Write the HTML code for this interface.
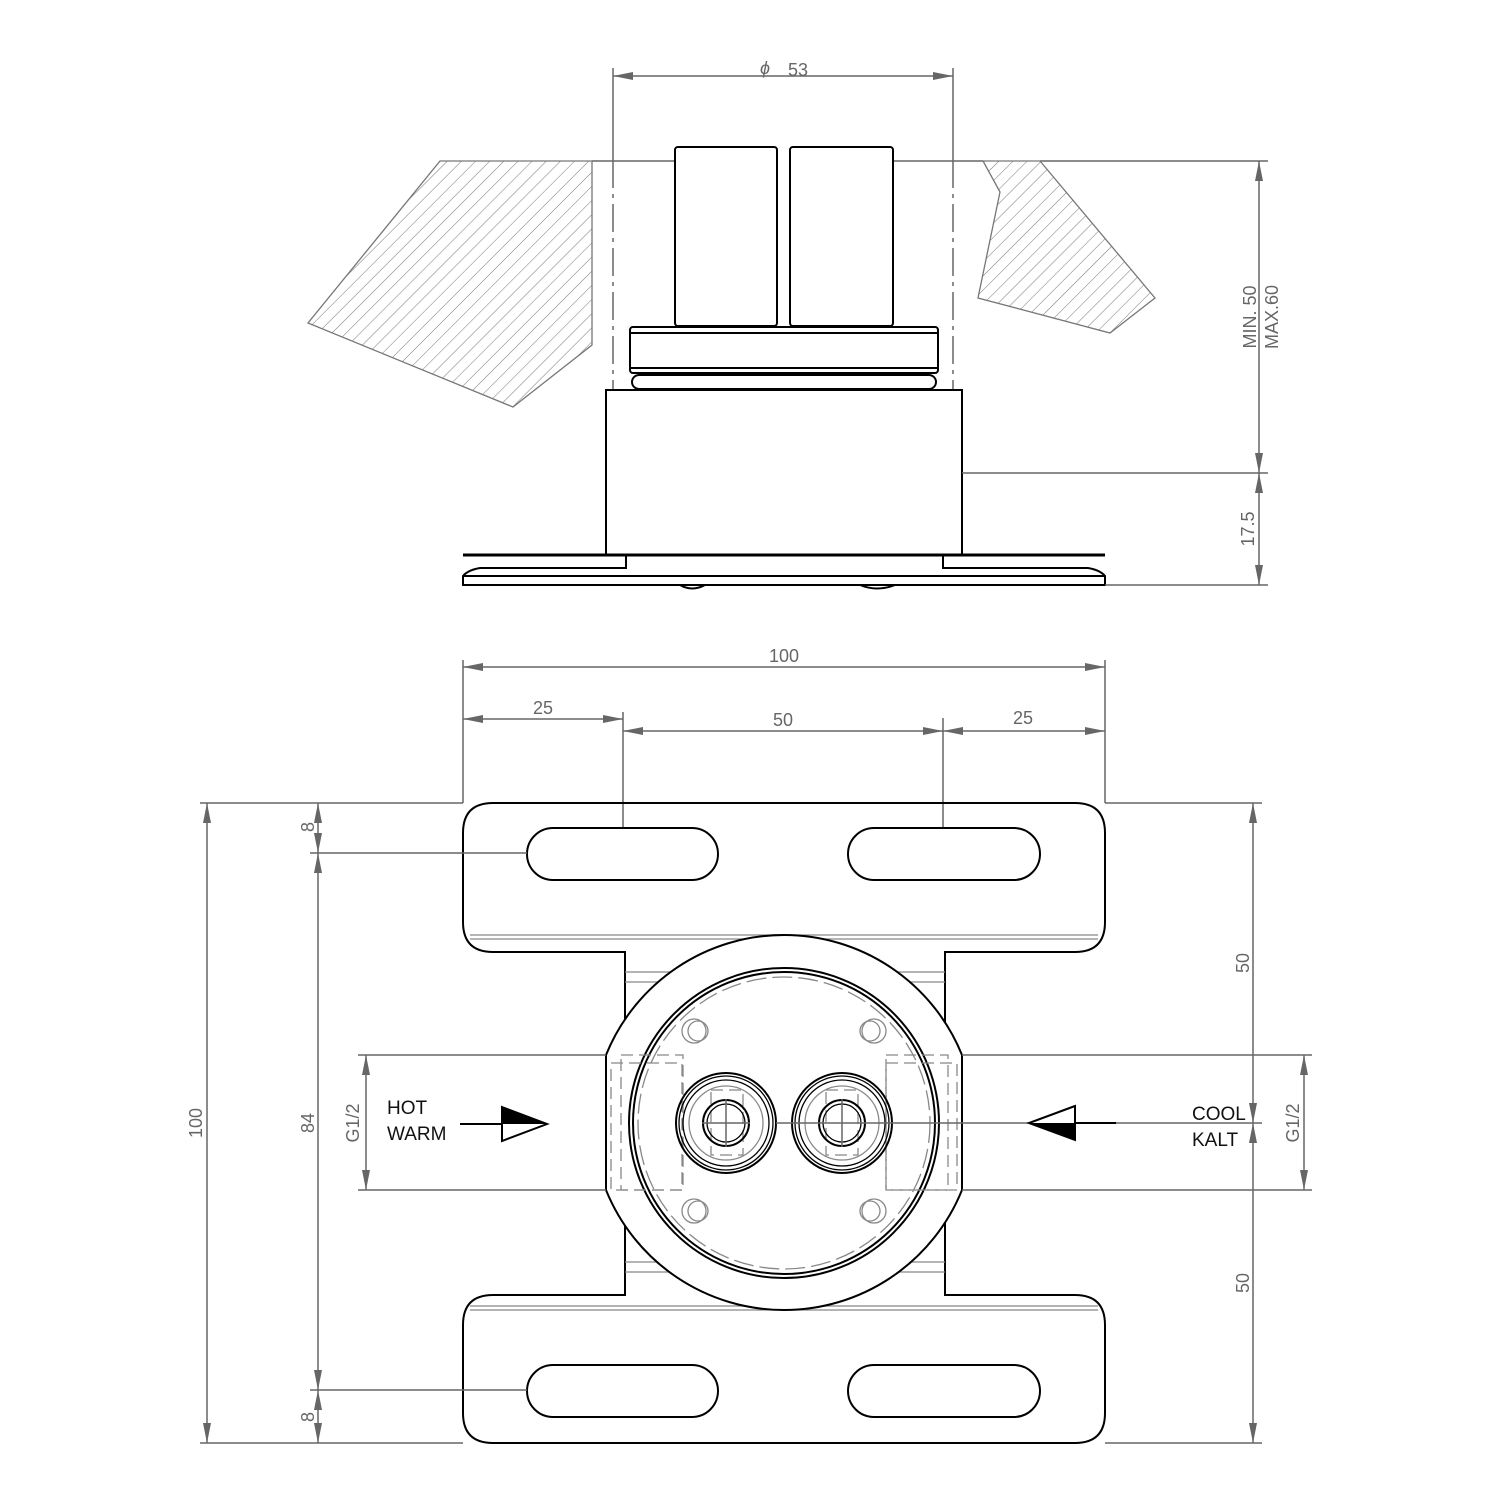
<!DOCTYPE html>
<html><head><meta charset="utf-8"><style>
html,body{margin:0;padding:0;background:#fff;}
svg{display:block;}
text{font-family:"Liberation Sans",sans-serif;}
.d{stroke:#666;stroke-width:1.5;fill:none;}
.k{stroke:#000;stroke-width:2;fill:none;}
.g{stroke:#888;stroke-width:1.3;fill:none;}
.dt{fill:#666;font-size:18px;}
.bt{fill:#111;font-size:19px;}
</style></head><body>
<svg width="1500" height="1500" viewBox="0 0 1500 1500" xmlns="http://www.w3.org/2000/svg">
<defs>
<marker id="a" viewBox="0 0 20 8" refX="20" refY="4" markerWidth="20" markerHeight="8" markerUnits="userSpaceOnUse" orient="auto-start-reverse"><path d="M0,0 L20,4 L0,8 z" fill="#666"/></marker>
<pattern id="h" patternUnits="userSpaceOnUse" width="10" height="10" patternTransform="rotate(45)"><line x1="0" y1="0" x2="0" y2="10" stroke="#777" stroke-width="1"/></pattern>
</defs>

<!-- ===== TOP VIEW ===== -->
<!-- phi 53 -->
<line class="d" x1="613" y1="68" x2="613" y2="160"/>
<line class="d" x1="953" y1="68" x2="953" y2="160"/>
<line class="d" x1="613" y1="160" x2="613" y2="390" stroke-dasharray="28,6,4,6"/>
<line class="d" x1="953" y1="160" x2="953" y2="390" stroke-dasharray="28,6,4,6"/>
<line class="d" x1="613" y1="76" x2="953" y2="76" marker-start="url(#a)" marker-end="url(#a)"/>
<text class="dt" x="760" y="74" font-style="italic" font-size="22">ϕ</text>
<text class="dt" x="788" y="76">53</text>
<line class="d" x1="592" y1="161" x2="675" y2="161"/>
<line class="d" x1="893" y1="161" x2="983" y2="161"/>
<line class="d" x1="1040" y1="161" x2="1268" y2="161"/>

<!-- hatched -->
<polygon points="440,161 592,161 592,345 513,407 308,323" fill="url(#h)" stroke="#777" stroke-width="1.3"/>
<polygon points="983,161 1040,161 1155,298 1110,333 978,298 1000,192" fill="url(#h)" stroke="#777" stroke-width="1.3"/>

<!-- handles -->
<rect class="k" x="675" y="147" width="102" height="179" rx="3"/>
<rect class="k" x="790" y="147" width="103" height="179" rx="3"/>
<!-- nut -->
<rect class="k" x="630" y="327" width="308" height="46" rx="3"/>
<line class="k" x1="630" y1="333" x2="938" y2="333" stroke-width="1.2"/>
<line class="k" x1="630" y1="368" x2="938" y2="368" stroke-width="1.2"/>
<rect class="k" x="632" y="375" width="304" height="14" rx="7"/>
<!-- body -->
<rect class="k" x="606" y="390" width="356" height="165"/>
<line class="d" x1="962" y1="473" x2="1268" y2="473"/>
<!-- plate -->
<line x1="463" y1="555" x2="1105" y2="555" stroke="#000" stroke-width="3"/>
<path class="k" d="M626,556 V568 H480 Q468,570 463,576 V585 H1105 V576 Q1100,570 1088,568 H943 V556"/>
<line class="k" x1="463" y1="576" x2="1105" y2="576" stroke-width="1.5"/>
<path class="k" d="M680,585 Q692,592 705,585 M860,585 Q877,592 895,585" stroke-width="1.5"/>
<line class="d" x1="1105" y1="585" x2="1268" y2="585"/>
<line class="d" x1="1259" y1="161" x2="1259" y2="473" marker-start="url(#a)" marker-end="url(#a)"/>
<line class="d" x1="1259" y1="473" x2="1259" y2="585" marker-start="url(#a)" marker-end="url(#a)"/>
<text class="dt" transform="translate(1256,317) rotate(-90)" text-anchor="middle">MIN. 50</text>
<text class="dt" transform="translate(1278,317) rotate(-90)" text-anchor="middle">MAX.60</text>
<text class="dt" transform="translate(1254,529) rotate(-90)" text-anchor="middle">17.5</text>

<!-- ===== BOTTOM VIEW ===== -->
<line class="d" x1="463" y1="660" x2="463" y2="803"/>
<line class="d" x1="1105" y1="660" x2="1105" y2="803"/>
<line class="d" x1="623" y1="712" x2="623" y2="828"/>
<line class="d" x1="943" y1="718" x2="943" y2="828"/>
<line class="d" x1="463" y1="667" x2="1105" y2="667" marker-start="url(#a)" marker-end="url(#a)"/>
<text class="dt" x="784" y="662" text-anchor="middle">100</text>
<line class="d" x1="463" y1="719" x2="623" y2="719" marker-start="url(#a)" marker-end="url(#a)"/>
<text class="dt" x="543" y="714" text-anchor="middle">25</text>
<line class="d" x1="623" y1="731" x2="943" y2="731" marker-start="url(#a)" marker-end="url(#a)"/>
<text class="dt" x="783" y="726" text-anchor="middle">50</text>
<line class="d" x1="943" y1="731" x2="1105" y2="731" marker-start="url(#a)" marker-end="url(#a)"/>
<text class="dt" x="1023" y="724" text-anchor="middle">25</text>

<!-- outline -->
<path class="k" d="M493,803 H1075 Q1105,803 1105,833 V922 Q1105,952 1075,952 H945 V1295 H1075 Q1105,1295 1105,1325 V1413 Q1105,1443 1075,1443 H493 Q463,1443 463,1413 V1325 Q463,1295 493,1295 H625 V952 H493 Q463,952 463,922 V833 Q463,803 493,803 Z"/>
<line class="g" x1="470" y1="935" x2="1098" y2="935"/>
<line class="g" x1="470" y1="939" x2="1098" y2="939"/>
<line class="g" x1="625" y1="972" x2="945" y2="972"/>
<line class="g" x1="625" y1="982" x2="945" y2="982"/>
<line class="g" x1="625" y1="1262" x2="945" y2="1262"/>
<line class="g" x1="625" y1="1272" x2="945" y2="1272"/>
<line class="g" x1="470" y1="1306" x2="1098" y2="1306"/>
<line class="g" x1="470" y1="1310" x2="1098" y2="1310"/>
<!-- slots -->
<rect class="k" x="527" y="828" width="191" height="52" rx="26"/>
<rect class="k" x="848" y="828" width="192" height="52" rx="26"/>
<rect class="k" x="527" y="1365" width="191" height="52" rx="26"/>
<rect class="k" x="848" y="1365" width="192" height="52" rx="26"/>

<!-- big circle -->
<path d="M606,1055 A192,192 0 0 1 962,1055 V1190 A192,192 0 0 1 606,1190 Z" fill="#fff" stroke="#000" stroke-width="2"/>
<circle class="k" cx="784" cy="1123" r="155"/>
<circle class="k" cx="784" cy="1123" r="151" stroke-width="1.3"/>
<circle class="g" cx="784" cy="1123" r="146" stroke-dasharray="20,6"/>
<!-- screw holes -->
<g class="g">
<circle cx="694" cy="1031" r="12"/><circle cx="698" cy="1031" r="10"/>
<circle cx="874" cy="1031" r="12"/><circle cx="870" cy="1031" r="10"/>
<circle cx="694" cy="1211" r="12"/><circle cx="698" cy="1211" r="10"/>
<circle cx="874" cy="1211" r="12"/><circle cx="870" cy="1211" r="10"/>
</g>
<!-- dashed ports -->
<g class="g" stroke-dasharray="12,6">
<rect x="611" y="1063" width="71" height="127"/>
<rect x="621" y="1055" width="62" height="135"/>
<rect x="886" y="1063" width="71" height="127"/>
<rect x="886" y="1055" width="62" height="135"/>
<rect x="711" y="1090" width="32" height="65"/>
<rect x="826" y="1090" width="32" height="65"/>
</g>
<!-- fittings -->
<g class="k">
<circle cx="726" cy="1123" r="50"/><circle cx="726" cy="1123" r="47" stroke-width="1.3"/><circle cx="726" cy="1123" r="43" stroke-width="1.3"/>
<circle cx="726" cy="1123" r="23"/><circle cx="726" cy="1123" r="19" stroke-width="1.3"/>
<circle cx="842" cy="1123" r="50"/><circle cx="842" cy="1123" r="47" stroke-width="1.3"/><circle cx="842" cy="1123" r="43" stroke-width="1.3"/>
<circle cx="842" cy="1123" r="23"/><circle cx="842" cy="1123" r="19" stroke-width="1.3"/>
</g>
<circle class="g" cx="726" cy="1123" r="37"/><circle class="g" cx="842" cy="1123" r="37"/>
<line class="d" x1="702" y1="1123" x2="750" y2="1123"/>
<line class="d" x1="726" y1="1099" x2="726" y2="1147"/>
<line class="d" x1="842" y1="1099" x2="842" y2="1147"/>
<line class="d" x1="776" y1="1123" x2="1116" y2="1123"/>

<!-- left dims -->
<line class="d" x1="200" y1="803" x2="463" y2="803"/>
<line class="d" x1="200" y1="1443" x2="463" y2="1443"/>
<line class="d" x1="310" y1="853" x2="527" y2="853"/>
<line class="d" x1="310" y1="1390" x2="527" y2="1390"/>
<line class="d" x1="207" y1="803" x2="207" y2="1443" marker-start="url(#a)" marker-end="url(#a)"/>
<text class="dt" transform="translate(202,1123) rotate(-90)" text-anchor="middle">100</text>
<line class="d" x1="318" y1="803" x2="318" y2="853" marker-start="url(#a)" marker-end="url(#a)"/>
<text class="dt" transform="translate(314,827) rotate(-90)" text-anchor="middle">8</text>
<line class="d" x1="318" y1="853" x2="318" y2="1390" marker-start="url(#a)" marker-end="url(#a)"/>
<text class="dt" transform="translate(314,1123) rotate(-90)" text-anchor="middle">84</text>
<line class="d" x1="318" y1="1390" x2="318" y2="1443" marker-start="url(#a)" marker-end="url(#a)"/>
<text class="dt" transform="translate(314,1417) rotate(-90)" text-anchor="middle">8</text>
<line class="d" x1="358" y1="1055" x2="606" y2="1055"/>
<line class="d" x1="358" y1="1190" x2="606" y2="1190"/>
<line class="d" x1="366" y1="1055" x2="366" y2="1190" marker-start="url(#a)" marker-end="url(#a)"/>
<text class="dt" transform="translate(359,1123) rotate(-90)" text-anchor="middle" fill="#888">G1/2</text>
<text class="bt" x="387" y="1114">HOT</text>
<text class="bt" x="387" y="1140">WARM</text>
<line x1="460" y1="1124" x2="505" y2="1124" stroke="#000" stroke-width="2"/>
<polygon points="502,1107 547,1124 502,1141" fill="#fff" stroke="#000" stroke-width="2"/>
<polygon points="502,1107 547,1124 502,1124" fill="#000"/>

<!-- right dims -->
<line class="d" x1="1105" y1="803" x2="1262" y2="803"/>
<line class="d" x1="1105" y1="1443" x2="1262" y2="1443"/>
<line class="d" x1="1253" y1="803" x2="1253" y2="1123" marker-start="url(#a)" marker-end="url(#a)"/>
<line class="d" x1="1253" y1="1123" x2="1253" y2="1443" marker-start="url(#a)" marker-end="url(#a)"/>
<line class="d" x1="1116" y1="1123" x2="1262" y2="1123"/>
<text class="dt" transform="translate(1249,963) rotate(-90)" text-anchor="middle">50</text>
<text class="dt" transform="translate(1249,1283) rotate(-90)" text-anchor="middle">50</text>
<line class="d" x1="962" y1="1055" x2="1312" y2="1055"/>
<line class="d" x1="962" y1="1190" x2="1312" y2="1190"/>
<line class="d" x1="1304" y1="1055" x2="1304" y2="1190" marker-start="url(#a)" marker-end="url(#a)"/>
<text class="dt" transform="translate(1299,1123) rotate(-90)" text-anchor="middle" fill="#888">G1/2</text>
<text class="bt" x="1192" y="1120">COOL</text>
<text class="bt" x="1192" y="1146">KALT</text>
<line x1="1072" y1="1123" x2="1116" y2="1123" stroke="#000" stroke-width="2"/>
<polygon points="1075,1106 1029,1123 1075,1140" fill="#fff" stroke="#000" stroke-width="2"/>
<polygon points="1075,1123 1029,1123 1075,1140" fill="#000"/>
</svg>
</body></html>
